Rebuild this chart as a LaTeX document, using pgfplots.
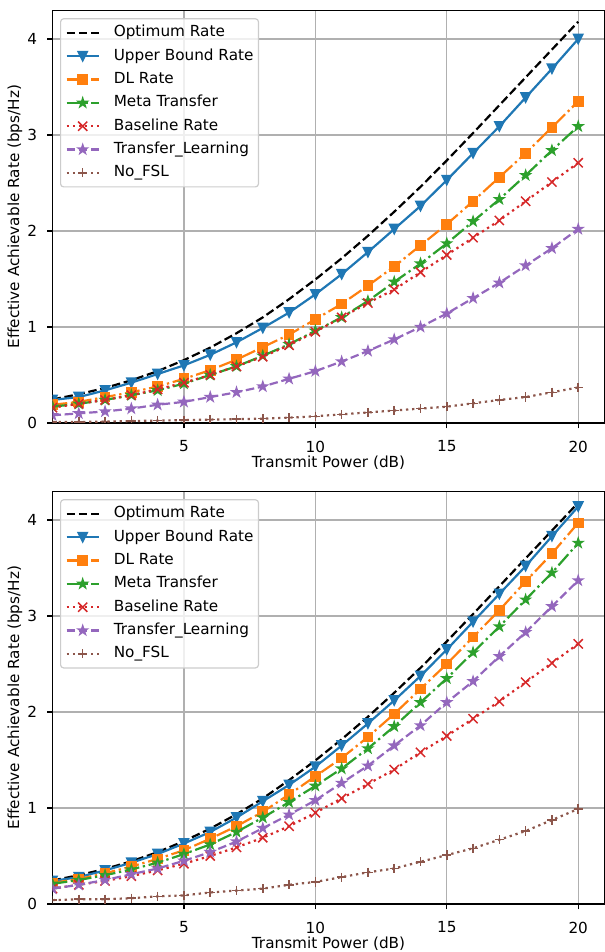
\documentclass[border=0pt]{standalone}
\usepackage{fontspec}
\setmainfont{DejaVu Sans}
\usepackage{pgfplots}
\pgfplotsset{compat=1.18}
\usepackage{pgfplotstable}

\definecolor{cblue}{HTML}{1F77B4}
\definecolor{corange}{HTML}{FF7F0E}
\definecolor{cgreen}{HTML}{2CA02C}
\definecolor{cred}{HTML}{D62728}
\definecolor{cpurple}{HTML}{9467BD}
\definecolor{cbrown}{HTML}{8C564B}
\definecolor{gridgray}{HTML}{B0B0B0}
\definecolor{legendgray}{HTML}{CCCCCC}

\pgfdeclareplotmark{fstar}{%
 \pgfpathmoveto{\pgfqpointpolar{90}{\pgfplotmarksize}}%
 \pgfpathlineto{\pgfqpointpolar{126}{0.382\pgfplotmarksize}}%
 \pgfpathlineto{\pgfqpointpolar{162}{\pgfplotmarksize}}%
 \pgfpathlineto{\pgfqpointpolar{198}{0.382\pgfplotmarksize}}%
 \pgfpathlineto{\pgfqpointpolar{234}{\pgfplotmarksize}}%
 \pgfpathlineto{\pgfqpointpolar{270}{0.382\pgfplotmarksize}}%
 \pgfpathlineto{\pgfqpointpolar{306}{\pgfplotmarksize}}%
 \pgfpathlineto{\pgfqpointpolar{342}{0.382\pgfplotmarksize}}%
 \pgfpathlineto{\pgfqpointpolar{18}{\pgfplotmarksize}}%
 \pgfpathlineto{\pgfqpointpolar{54}{0.382\pgfplotmarksize}}%
 \pgfpathclose\pgfusepathqfillstroke}
\pgfdeclareplotmark{tridown}{%
 \pgfpathmoveto{\pgfqpoint{0pt}{-\pgfplotmarksize}}%
 \pgfpathlineto{\pgfqpoint{-\pgfplotmarksize}{\pgfplotmarksize}}%
 \pgfpathlineto{\pgfqpoint{\pgfplotmarksize}{\pgfplotmarksize}}%
 \pgfpathclose\pgfusepathqfillstroke}

\pgfplotstableread{
x opt ub dl meta base tl nofsl
0 0.245 0.24 0.19 0.17 0.16 0.08 0.01
1 0.30 0.27 0.22 0.20 0.20 0.10 0.01
2 0.365 0.34 0.27 0.24 0.24 0.12 0.015
3 0.445 0.42 0.32 0.29 0.29 0.15 0.02
4 0.54 0.51 0.38 0.34 0.35 0.19 0.025
5 0.655 0.60 0.46 0.41 0.42 0.22 0.03
6 0.785 0.71 0.55 0.50 0.50 0.27 0.035
7 0.935 0.84 0.66 0.59 0.59 0.32 0.04
8 1.10 0.99 0.79 0.70 0.69 0.38 0.045
9 1.29 1.15 0.92 0.82 0.81 0.46 0.055
10 1.495 1.34 1.08 0.96 0.95 0.54 0.07
11 1.715 1.55 1.24 1.10 1.10 0.64 0.09
12 1.95 1.78 1.43 1.27 1.25 0.75 0.11
13 2.20 2.02 1.63 1.47 1.39 0.87 0.13
14 2.46 2.26 1.85 1.66 1.57 1.00 0.15
15 2.735 2.53 2.07 1.87 1.75 1.14 0.17
16 3.02 2.81 2.31 2.10 1.93 1.30 0.205
17 3.31 3.09 2.56 2.33 2.11 1.46 0.24
18 3.60 3.39 2.81 2.58 2.31 1.64 0.27
19 3.89 3.69 3.08 2.84 2.51 1.82 0.32
20 4.18 4.00 3.35 3.09 2.71 2.02 0.37
}\toptable

\pgfplotstableread{
x opt ub dl meta base tl nofsl
0 0.245 0.24 0.22 0.21 0.16 0.16 0.04
1 0.30 0.28 0.26 0.25 0.20 0.20 0.05
2 0.365 0.35 0.32 0.30 0.24 0.25 0.05
3 0.445 0.43 0.39 0.36 0.29 0.31 0.06
4 0.54 0.52 0.47 0.43 0.35 0.37 0.08
5 0.655 0.63 0.56 0.52 0.42 0.45 0.09
6 0.785 0.75 0.68 0.62 0.50 0.54 0.12
7 0.935 0.90 0.81 0.75 0.59 0.65 0.14
8 1.10 1.07 0.96 0.90 0.69 0.79 0.16
9 1.29 1.24 1.14 1.06 0.81 0.93 0.20
10 1.495 1.43 1.33 1.23 0.95 1.08 0.23
11 1.715 1.65 1.52 1.41 1.10 1.26 0.28
12 1.95 1.88 1.74 1.62 1.25 1.44 0.33
13 2.20 2.12 1.98 1.85 1.40 1.65 0.37
14 2.46 2.375 2.24 2.10 1.58 1.86 0.44
15 2.735 2.65 2.50 2.35 1.75 2.10 0.51
16 3.02 2.94 2.78 2.62 1.93 2.32 0.58
17 3.31 3.23 3.06 2.89 2.11 2.58 0.67
18 3.60 3.52 3.36 3.17 2.31 2.83 0.76
19 3.89 3.83 3.65 3.45 2.51 3.10 0.875
20 4.18 4.14 3.97 3.76 2.71 3.37 0.99
}\bottable

\pgfplotsset{
 myaxis/.style={
  scale only axis, width=552bp, height=412.8bp,
  xmin=0, xmax=21, ymin=0, ymax=4.3,
  xtick={5,10,15,20}, ytick={0,1,2,3,4},
  grid=major, grid style={color=gridgray, line width=1.2bp},
  axis line style={line width=1.2bp, black},
  tick pos=left, tick align=outside, major tick length=5.4bp,
  tick style={black, line width=1.2bp},
  /pgf/number format/assume math mode=true,
  xticklabel style={anchor=north, inner sep=0pt, yshift=-12.1bp},
  yticklabel style={anchor=east, inner sep=0pt, xshift=-9.8bp},
  xlabel={Transmit Power (dB)},
  ylabel={Effective Achievable Rate (bps/Hz)},
  xlabel style={at={(axis description cs:0.5,-0.0962)}, anchor=center, inner sep=0pt},
  ylabel style={at={(axis description cs:-0.068,0.5)}, anchor=center, inner sep=0pt},
  clip marker paths=true,
  legend cell align=left,
  legend style={at={(0.0136,0.9806)}, anchor=north west, draw=legendgray,
    line width=1.2bp, rounded corners=3bp, fill=white, fill opacity=0.8,
    text opacity=1, draw opacity=1, inner xsep=5bp, inner ysep=2.5bp,
    row sep=0bp, column sep=14bp,
    nodes={inner xsep=0bp, inner ysep=4bp, text height=11.6bp, text depth=3.7bp}},
  legend image post style={fill opacity=1, draw opacity=1},
  legend image code/.code={\draw[mark repeat=2,mark phase=2,#1] plot coordinates {(0bp,0bp) (16bp,0bp) (32bp,0bp)};},
 },
 sopt/.style={black, line width=2.2bp, dash pattern=on 8.5bp off 3.7bp, no marks},
 sub/.style={cblue, line width=2.2bp, solid, mark=tridown, mark size=4.6bp, mark options={solid, fill=cblue, line width=1.5bp}},
 sdl/.style={corange, line width=2.2bp, dash pattern=on 14.8bp off 3.7bp on 2.3bp off 3.7bp, mark=square*, mark size=4.6bp, mark options={solid, fill=corange, line width=1.5bp}},
 smeta/.style={cgreen, line width=2.2bp, dash pattern=on 14.8bp off 3.7bp on 2.3bp off 3.7bp, mark=fstar, mark size=4.6bp, mark options={solid, fill=cgreen, line width=1.5bp}},
 sbase/.style={cred, line width=2.2bp, dash pattern=on 2.3bp off 3.8bp, mark=x, mark size=6.5bp, mark options={solid, line width=1.5bp}},
 stl/.style={cpurple, line width=2.2bp, dash pattern=on 8.5bp off 3.7bp, mark=fstar, mark size=4.6bp, mark options={solid, fill=cpurple, line width=1.5bp}},
 snofsl/.style={cbrown, line width=2.2bp, dash pattern=on 2.3bp off 3.8bp, mark=+, mark size=4.6bp, mark options={solid, line width=1.5bp}},
}

\begin{document}
\begin{tikzpicture}[font=\fontsize{15.25bp}{18bp}\selectfont]
\useasboundingbox (0bp,0bp) rectangle (605bp,952bp);
\begin{axis}[myaxis, at={(52.5bp,529bp)}, anchor=south west]
\addplot[sopt] table[x=x,y=opt] {\toptable}; \addlegendentry{Optimum Rate}
\addplot[sub] table[x=x,y=ub] {\toptable}; \addlegendentry{Upper Bound Rate}
\addplot[sdl] table[x=x,y=dl] {\toptable}; \addlegendentry{DL Rate}
\addplot[smeta] table[x=x,y=meta] {\toptable}; \addlegendentry{Meta Transfer}
\addplot[sbase] table[x=x,y=base] {\toptable}; \addlegendentry{Baseline Rate}
\addplot[stl] table[x=x,y=tl] {\toptable}; \addlegendentry{Transfer\_Learning}
\addplot[snofsl] table[x=x,y=nofsl] {\toptable}; \addlegendentry{No\_FSL}
\end{axis}
\begin{axis}[myaxis, at={(52.5bp,48bp)}, anchor=south west]
\addplot[sopt] table[x=x,y=opt] {\bottable}; \addlegendentry{Optimum Rate}
\addplot[sub] table[x=x,y=ub] {\bottable}; \addlegendentry{Upper Bound Rate}
\addplot[sdl] table[x=x,y=dl] {\bottable}; \addlegendentry{DL Rate}
\addplot[smeta] table[x=x,y=meta] {\bottable}; \addlegendentry{Meta Transfer}
\addplot[sbase] table[x=x,y=base] {\bottable}; \addlegendentry{Baseline Rate}
\addplot[stl] table[x=x,y=tl] {\bottable}; \addlegendentry{Transfer\_Learning}
\addplot[snofsl] table[x=x,y=nofsl] {\bottable}; \addlegendentry{No\_FSL}
\end{axis}
\end{tikzpicture}
\end{document}
